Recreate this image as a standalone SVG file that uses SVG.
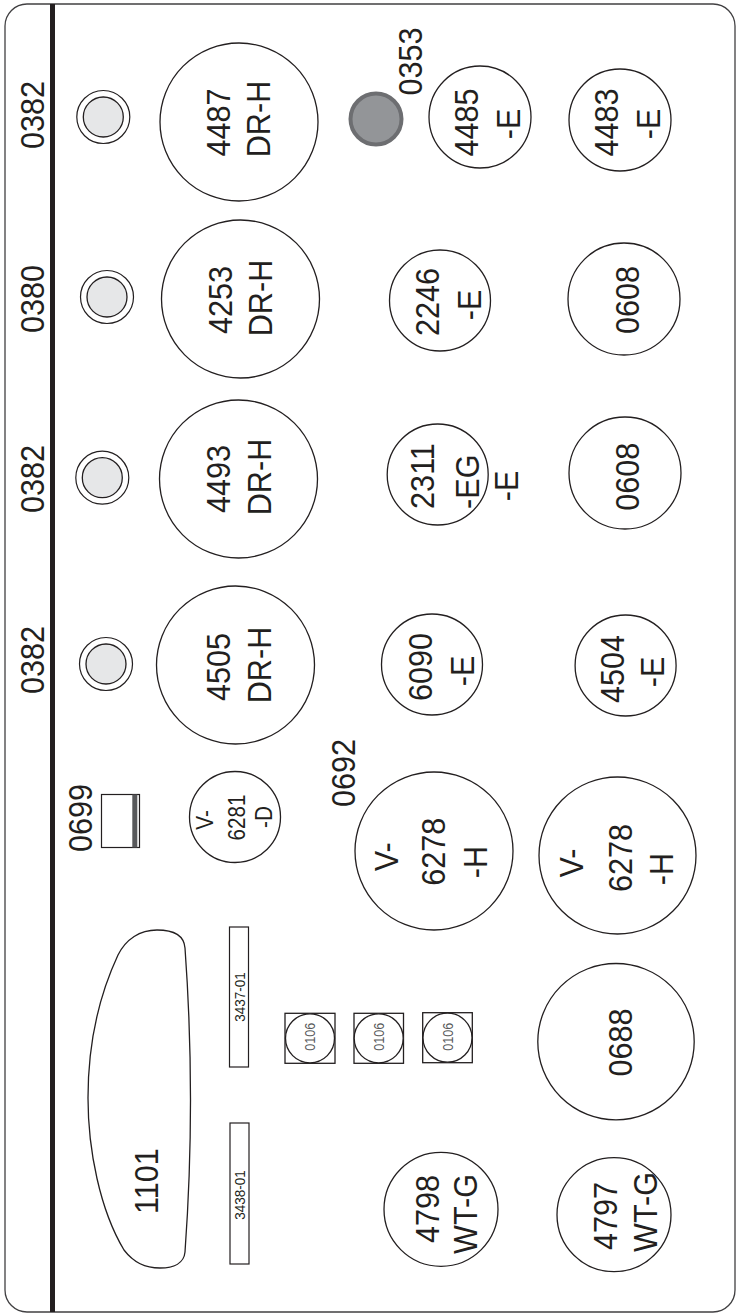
<svg xmlns="http://www.w3.org/2000/svg" width="736" height="1314" viewBox="0 0 736 1314">
<style>
  text { font-family: "Liberation Sans", Arial, Helvetica, sans-serif; fill: #231f20; text-anchor: middle; }
  .lg { font-size: 34px; }
  .md { font-size: 23px; }
  .sm { font-size: 15px; }
  .xs { font-size: 14px; fill: #58595b; }
  .node { fill: #ffffff; stroke: #231f20; stroke-width: 1.3; }
  .ring { fill: #ffffff; stroke: #231f20; stroke-width: 1.2; }
  .ringin { fill: #e6e7e8; stroke: #231f20; stroke-width: 1.3; }
</style>
<rect x="5" y="4" width="730" height="1308" rx="22" ry="22" fill="#ffffff" stroke="#414042" stroke-width="1.3"/>
<rect x="50" y="4" width="5" height="1308" fill="#231f20"/>
<g id="connectors"></g>

<g id="labels">
  <text class="lg" transform="translate(44,115) rotate(-90) scale(0.9 1)">0382</text>
  <text class="lg" transform="translate(44,299) rotate(-90) scale(0.9 1)">0380</text>
  <text class="lg" transform="translate(44,479) rotate(-90) scale(0.9 1)">0382</text>
  <text class="lg" transform="translate(44,660) rotate(-90) scale(0.9 1)">0382</text>
  <text class="lg" transform="translate(421.5,61.5) rotate(-90) scale(0.9 1)">0353</text>
  <text class="lg" transform="translate(91.5,818) rotate(-90) scale(0.9 1)">0699</text>
  <text class="lg" transform="translate(355,773) rotate(-90) scale(0.9 1)">0692</text>
</g>

<g id="ring-1"><circle class="ring" cx="103.3" cy="117" r="26.5"/><circle class="ringin" cx="103.3" cy="117" r="20"/></g>
<g id="ring-2"><circle class="ring" cx="107" cy="297" r="26.5"/><circle class="ringin" cx="107" cy="297" r="20"/></g>
<g id="ring-3"><circle class="ring" cx="102.3" cy="477.7" r="26.5"/><circle class="ringin" cx="102.3" cy="477.7" r="20"/></g>
<g id="ring-4"><circle class="ring" cx="106" cy="664" r="26.5"/><circle class="ringin" cx="106" cy="664" r="20"/></g>

<g id="dot-0353"><circle cx="376" cy="119" r="25.5" fill="#939598" stroke="#6d6e71" stroke-width="4"/></g>

<g id="n4487">
  <circle class="node" cx="239" cy="122" r="79"/>
  <text class="lg" transform="translate(230,122.5) rotate(-90) scale(0.9 1)">4487</text>
  <text class="lg" transform="translate(270,119) rotate(-90) scale(0.9 1)">DR-H</text>
</g>
<g id="n4253">
  <circle class="node" cx="240.5" cy="299" r="79"/>
  <text class="lg" transform="translate(232,300) rotate(-90) scale(0.9 1)">4253</text>
  <text class="lg" transform="translate(272,298) rotate(-90) scale(0.9 1)">DR-H</text>
</g>
<g id="n4493">
  <circle class="node" cx="238.5" cy="479" r="79"/>
  <text class="lg" transform="translate(230,479) rotate(-90) scale(0.9 1)">4493</text>
  <text class="lg" transform="translate(271,477) rotate(-90) scale(0.9 1)">DR-H</text>
</g>
<g id="n4505">
  <circle class="node" cx="235.5" cy="665" r="79"/>
  <text class="lg" transform="translate(230,667) rotate(-90) scale(0.9 1)">4505</text>
  <text class="lg" transform="translate(271,665) rotate(-90) scale(0.9 1)">DR-H</text>
</g>

<g id="n4485">
  <circle class="node" cx="480" cy="117" r="51"/>
  <text class="lg" transform="translate(478,122.5) rotate(-90) scale(0.9 1)">4485</text>
  <text class="lg" transform="translate(520,124) rotate(-90) scale(0.9 1)">-E</text>
</g>
<g id="n4483">
  <circle class="node" cx="620" cy="120" r="51"/>
  <text class="lg" transform="translate(618,122.5) rotate(-90) scale(0.9 1)">4483</text>
  <text class="lg" transform="translate(660,124) rotate(-90) scale(0.9 1)">-E</text>
</g>
<g id="n2246">
  <circle class="node" cx="440" cy="300.5" r="50.5"/>
  <text class="lg" transform="translate(439,302) rotate(-90) scale(0.9 1)">2246</text>
  <text class="lg" transform="translate(481,305) rotate(-90) scale(0.9 1)">-E</text>
</g>
<g id="n0608a">
  <circle class="node" cx="624" cy="299" r="56"/>
  <text class="lg" transform="translate(638.5,300) rotate(-90) scale(0.9 1)">0608</text>
</g>
<g id="n2311">
  <circle class="node" cx="437.7" cy="474.5" r="50.5"/>
  <text class="lg" transform="translate(434,476) rotate(-90) scale(0.9 1)">2311</text>
  <text class="lg" transform="translate(479,481.7) rotate(-90) scale(0.9 1)">-EG</text>
  <text class="lg" transform="translate(518,486) rotate(-90) scale(0.9 1)">-E</text>
</g>
<g id="n0608b">
  <circle class="node" cx="625" cy="473" r="56"/>
  <text class="lg" transform="translate(638.5,476.7) rotate(-90) scale(0.9 1)">0608</text>
</g>
<g id="n6090">
  <circle class="node" cx="432" cy="664.5" r="50.5"/>
  <text class="lg" transform="translate(432,667) rotate(-90) scale(0.9 1)">6090</text>
  <text class="lg" transform="translate(474,671) rotate(-90) scale(0.9 1)">-E</text>
</g>
<g id="n4504">
  <circle class="node" cx="625.6" cy="665.5" r="50.5"/>
  <text class="lg" transform="translate(624,669) rotate(-90) scale(0.9 1)">4504</text>
  <text class="lg" transform="translate(664,672) rotate(-90) scale(0.9 1)">-E</text>
</g>

<g id="n0699">
  <rect x="101.5" y="794.5" width="38" height="53" fill="#ffffff" stroke="#231f20" stroke-width="1.2"/>
  <rect x="132.3" y="794.5" width="5" height="53" fill="#58595b"/>
</g>
<g id="n6281">
  <circle class="node" cx="235" cy="817" r="45.5"/>
  <text class="md" transform="translate(213,820) rotate(-90) scale(0.9 1)">V-</text>
  <text class="md" transform="translate(245,817.5) rotate(-90) scale(0.9 1)">6281</text>
  <text class="md" transform="translate(271.7,817) rotate(-90) scale(0.9 1)">-D</text>
</g>
<g id="n6278a">
  <circle class="node" cx="434" cy="851" r="79"/>
  <text class="lg" transform="translate(398,856.7) rotate(-90) scale(0.9 1)">V-</text>
  <text class="lg" transform="translate(445,851.7) rotate(-90) scale(0.9 1)">6278</text>
  <text class="lg" transform="translate(486.7,862) rotate(-90) scale(0.9 1)">-H</text>
</g>
<g id="n6278b">
  <circle class="node" cx="617.5" cy="855.5" r="78.5"/>
  <text class="lg" transform="translate(583,863) rotate(-90) scale(0.9 1)">V-</text>
  <text class="lg" transform="translate(631.7,858) rotate(-90) scale(0.9 1)">6278</text>
  <text class="lg" transform="translate(673,869) rotate(-90) scale(0.9 1)">-H</text>
</g>

<g id="n1101">
  <path class="node" d="M157,930 C174,930 184,935 185,948 Q196,1100 185,1252 C184,1263 174,1268 160,1268 C145,1268 134,1263 124,1250 C100,1210 88,1150 88,1098 C88,1045 97,1000 118,955 C126,939 140,930 157,930 Z"/>
  <text class="lg" transform="translate(158.3,1181) rotate(-90) scale(0.9 1)">1101</text>
</g>
<g id="n3437">
  <rect x="229.5" y="927" width="19" height="140" fill="#ffffff" stroke="#231f20" stroke-width="1.2"/>
  <text class="sm" transform="translate(244.5,997) rotate(-90) scale(0.9 1)">3437-01</text>
</g>
<g id="n3438">
  <rect x="230" y="1123" width="19" height="141" fill="#ffffff" stroke="#231f20" stroke-width="1.2"/>
  <text class="sm" transform="translate(244.5,1195) rotate(-90) scale(0.9 1)">3438-01</text>
</g>

<g id="n0106a">
  <rect x="285" y="1013.3" width="50" height="50" fill="#ffffff" stroke="#231f20" stroke-width="1.3"/>
  <circle class="node" cx="310" cy="1038.3" r="24.5" stroke-width="1.6"/>
  <text class="xs" transform="translate(315,1036.7) rotate(-90) scale(0.9 1)">0106</text>
</g>
<g id="n0106b">
  <rect x="354" y="1013.3" width="49.5" height="50" fill="#ffffff" stroke="#231f20" stroke-width="1.3"/>
  <circle class="node" cx="378.7" cy="1038.3" r="24.5" stroke-width="1.6"/>
  <text class="xs" transform="translate(383.7,1036.7) rotate(-90) scale(0.9 1)">0106</text>
</g>
<g id="n0106c">
  <rect x="422.7" y="1012.7" width="49.6" height="50" fill="#ffffff" stroke="#231f20" stroke-width="1.3"/>
  <circle class="node" cx="447.5" cy="1037.7" r="24.5" stroke-width="1.6"/>
  <text class="xs" transform="translate(452.5,1036.7) rotate(-90) scale(0.9 1)">0106</text>
</g>

<g id="n0688">
  <circle class="node" cx="616" cy="1041.7" r="78.2"/>
  <text class="lg" transform="translate(631.5,1042.5) rotate(-90) scale(0.9 1)">0688</text>
</g>
<g id="n4798">
  <circle class="node" cx="441" cy="1209.3" r="57"/>
  <text class="lg" transform="translate(439,1209) rotate(-90) scale(0.9 1)">4798</text>
  <text class="lg" transform="translate(476.5,1214) rotate(-90) scale(0.9 1)">WT-G</text>
</g>
<g id="n4797">
  <circle class="node" cx="614" cy="1214.7" r="57"/>
  <text class="lg" transform="translate(617,1216) rotate(-90) scale(0.9 1)">4797</text>
  <text class="lg" transform="translate(657,1212) rotate(-90) scale(0.9 1)">WT-G</text>
</g>
</svg>
